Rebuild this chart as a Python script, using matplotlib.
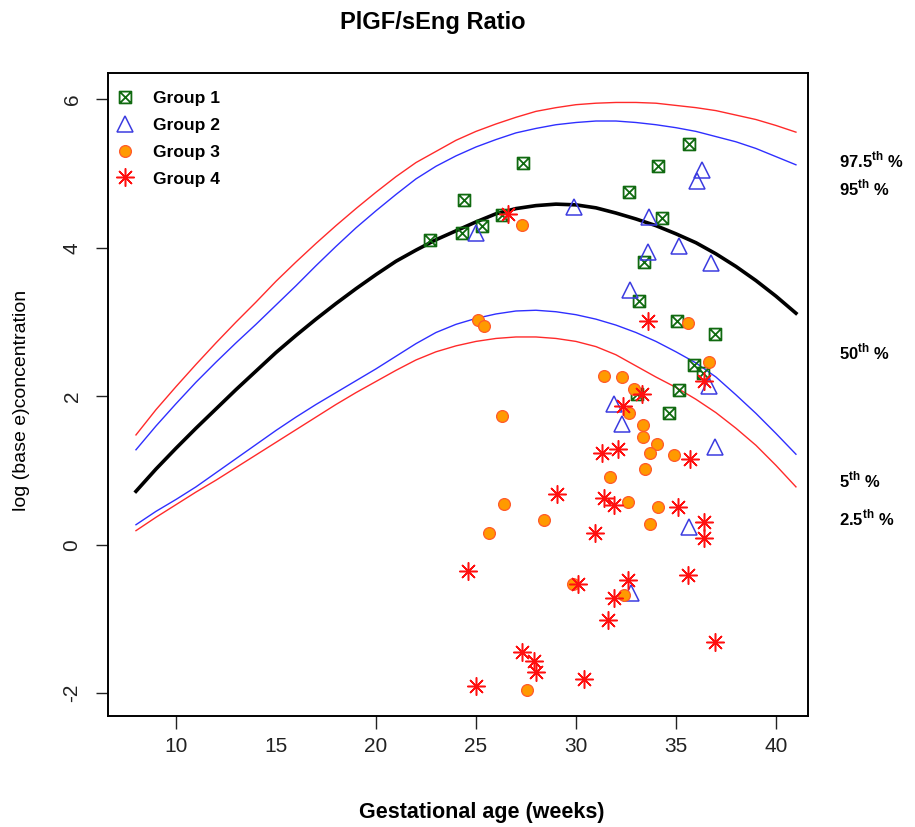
import numpy as np
import matplotlib
matplotlib.use("Agg")
import matplotlib.pyplot as plt
from matplotlib.path import Path

plt.rcParams['font.family'] = ['Liberation Sans', 'DejaVu Sans']
plt.rcParams['mathtext.fontset'] = 'custom'
plt.rcParams['mathtext.bf'] = 'Liberation Sans:bold'
plt.rcParams['mathtext.rm'] = 'Liberation Sans'
plt.rcParams['axes.unicode_minus'] = False

#---reference centile curves
weeks = np.arange(8, 42)
p975 = [1.48, 1.82, 2.13, 2.43, 2.72, 3.00, 3.27, 3.55, 3.81, 4.06, 4.30, 4.53, 4.75, 4.96, 5.15, 5.30, 5.45,
        5.57, 5.67, 5.76, 5.84, 5.89, 5.93, 5.95, 5.96, 5.96, 5.95, 5.92, 5.89, 5.85, 5.79, 5.73, 5.65, 5.56]
p95  = [1.28, 1.60, 1.90, 2.19, 2.46, 2.72, 2.97, 3.23, 3.49, 3.76, 4.02, 4.27, 4.50, 4.72, 4.93, 5.10, 5.24,
        5.36, 5.46, 5.55, 5.61, 5.66, 5.69, 5.71, 5.71, 5.69, 5.66, 5.62, 5.57, 5.50, 5.43, 5.34, 5.23, 5.12]
p50  = [0.72, 1.02, 1.30, 1.57, 1.83, 2.09, 2.34, 2.59, 2.82, 3.04, 3.25, 3.45, 3.64, 3.82, 3.97, 4.11, 4.23,
        4.35, 4.46, 4.53, 4.57, 4.59, 4.58, 4.54, 4.47, 4.39, 4.30, 4.19, 4.07, 3.92, 3.75, 3.56, 3.35, 3.12]
p5   = [0.27, 0.45, 0.61, 0.78, 0.97, 1.16, 1.35, 1.54, 1.72, 1.89, 2.05, 2.21, 2.37, 2.54, 2.71, 2.86, 2.97,
        3.05, 3.11, 3.15, 3.16, 3.14, 3.10, 3.04, 2.96, 2.86, 2.74, 2.60, 2.45, 2.26, 2.02, 1.77, 1.50, 1.22]
p25  = [0.19, 0.37, 0.54, 0.71, 0.87, 1.04, 1.21, 1.38, 1.55, 1.72, 1.89, 2.05, 2.20, 2.35, 2.49, 2.60, 2.68,
        2.74, 2.78, 2.80, 2.80, 2.78, 2.74, 2.67, 2.56, 2.41, 2.26, 2.12, 1.96, 1.78, 1.57, 1.34, 1.07, 0.78]

#---observations
g1_x = [22.70, 24.29, 24.42, 25.30, 26.29, 27.33, 32.65, 34.12, 35.65, 34.32, 33.42, 33.13,
        35.05, 36.95, 35.91, 36.33, 33.05, 35.17, 34.65]
g1_y = [4.10, 4.20, 4.64, 4.29, 4.45, 5.14, 4.75, 5.11, 5.40, 4.40, 3.81, 3.28,
        3.02, 2.84, 2.42, 2.32, 2.03, 2.08, 1.77]

g2_x = [25.0, 29.9, 33.63, 36.32, 36.03, 33.6, 35.13, 36.75, 32.72, 36.65, 31.9, 32.32, 36.95, 35.65, 32.73]
g2_y = [4.20, 4.55, 4.42, 5.05, 4.90, 3.95, 4.03, 3.80, 3.43, 2.14, 1.89, 1.63, 1.32, 0.24, -0.65]

g3_x = [27.32, 25.08, 25.38, 35.62, 36.65, 31.42, 32.32, 32.92, 32.65, 26.28, 33.33, 33.33, 34.03,
        33.70, 34.92, 33.45, 31.70, 26.42, 28.42, 25.67, 32.62, 34.12, 33.68, 29.87, 32.42, 27.57]
g3_y = [4.31, 3.03, 2.95, 2.99, 2.46, 2.28, 2.26, 2.10, 1.77, 1.74, 1.61, 1.45, 1.36,
        1.23, 1.21, 1.02, 0.91, 0.55, 0.33, 0.16, 0.58, 0.51, 0.28, -0.53, -0.68, -1.96]

g4_x = [26.58, 33.62, 36.40, 33.32, 32.37, 31.32, 32.12, 35.70, 29.03, 31.38, 31.92, 35.12, 36.40,
        36.40, 30.93, 24.58, 35.62, 30.12, 32.60, 31.88, 31.62, 36.95, 27.28, 27.88, 27.98, 30.40, 24.98]
g4_y = [4.46, 3.02, 2.20, 2.03, 1.87, 1.23, 1.29, 1.15, 0.68, 0.63, 0.53, 0.51, 0.31,
        0.09, 0.16, -0.35, -0.41, -0.53, -0.48, -0.72, -1.02, -1.31, -1.45, -1.56, -1.71, -1.81, -1.90]

labels = ["Group 1", "Group 2", "Group 3", "Group 4"]
centile_text = [r"97.5$^{\mathbf{th}}$ %", r"95$^{\mathbf{th}}$ %", r"50$^{\mathbf{th}}$ %",
                r"5$^{\mathbf{th}}$ %", r"2.5$^{\mathbf{th}}$ %"]

#---square with a cross inside (like R pch=7)
sqx = Path([(-1, -1), (1, -1), (1, 1), (-1, 1), (-1, -1), (-1, -1), (1, 1), (-1, 1), (1, -1)],
           [Path.MOVETO, Path.LINETO, Path.LINETO, Path.LINETO, Path.CLOSEPOLY,
            Path.MOVETO, Path.LINETO, Path.MOVETO, Path.LINETO])

fig = plt.figure(figsize=(9.15, 8.27), dpi=100)
ax = fig.add_axes([0.118, 0.134, 0.765, 0.778])

red = '#ff2a2a'
blue = '#2f2fff'
ax.plot(weeks, p975, color=red, lw=1.0)
ax.plot(weeks, p95, color=blue, lw=1.0)
ax.plot(weeks, p50, color='black', lw=2.6)
ax.plot(weeks, p5, color=blue, lw=1.0)
ax.plot(weeks, p25, color=red, lw=1.0)

h1, = ax.plot(g1_x, g1_y, ls='none', marker=sqx, ms=8.5, mfc='none', mec='#106a10', mew=1.3)
h2, = ax.plot(g2_x, g2_y, ls='none', marker='^', ms=11, mfc='none', mec='#3c3ce0', mew=1.1)
h3, = ax.plot(g3_x, g3_y, ls='none', marker='o', ms=8.5, mfc='#ff9a00', mec='#ff5a2a', mew=0.9)
h4, = ax.plot(g4_x, g4_y, ls='none', marker=(8, 2, 0), ms=13, mec='#ff1010', mew=1.1)

ax.set_xlim(6.6, 41.6)
ax.set_ylim(-2.31, 6.36)
ax.set_xticks([10, 15, 20, 25, 30, 35, 40])
ax.set_yticks([-2, 0, 2, 4, 6])
ax.xaxis.get_major_ticks()[1].tick1line.set_visible(False)

for s in ax.spines.values():
    s.set_linewidth(1.4)
ax.tick_params(axis='both', length=9, width=1.0, labelsize=15, colors='#222222')
ax.tick_params(axis='x', pad=6)
ax.tick_params(axis='y', pad=10, labelrotation=90)
for t in ax.get_yticklabels():
    t.set_verticalalignment('center')

leg = ax.legend([h1, h2, h3, h4], labels, loc='upper left', bbox_to_anchor=(0.002, 0.982),
                frameon=False, handlelength=1.0, handletextpad=1.13, labelspacing=0.665,
                prop={'weight': 'bold', 'size': 12.5}, borderaxespad=0)

fig.text(0.473, 0.973, "PlGF/sEng Ratio", ha='center', va='center', fontsize=17, fontweight='bold')
fig.text(0.527, 0.017, "Gestational age (weeks)", ha='center', va='center', fontsize=15.5, fontweight='bold')
fig.text(0.024, 0.516, "log (base e)concentration", ha='center', va='center', rotation=90, fontsize=14)

label_y = [0.8065, 0.7727, 0.574, 0.4196, 0.3736]
for txt, yy in zip(centile_text, label_y):
    fig.text(0.917, yy, txt, ha='left', va='center', fontsize=12, fontweight='bold')

plt.savefig('out.png', dpi=100)
